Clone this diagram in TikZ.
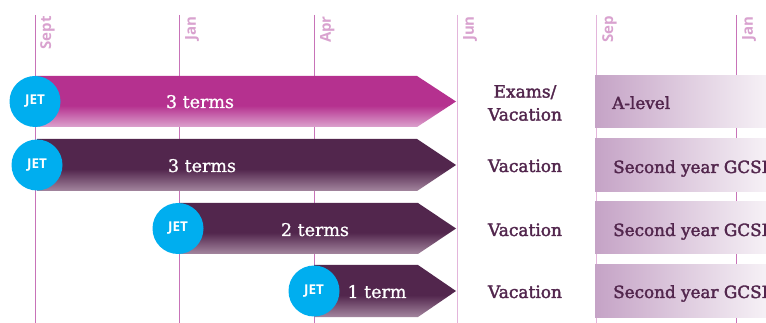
\documentclass[tikz,border=0pt]{standalone}
\usepackage{fontspec}
\setmainfont{DejaVu Serif}
\newfontfamily\slabfont{DejaVu Serif}[FakeBold=2]
\newfontfamily\termfont{DejaVu Serif}[FakeBold=1]
\newfontfamily\monthfont{Open Sans}
\newfontfamily\jetfont{Open Sans}
\definecolor{magentadk}{HTML}{B5318F}
\definecolor{magentalt}{HTML}{DCA3CE}
\definecolor{plumdk}{HTML}{52264D}
\definecolor{plumlt}{HTML}{A4869F}
\definecolor{jetblue}{HTML}{00AEEF}
\definecolor{linepink}{HTML}{C873B8}
\definecolor{linepale}{HTML}{E3B5DB}
\definecolor{monthtext}{HTML}{D9A2CF}
\definecolor{boxleft}{HTML}{C5A3C6}
\definecolor{boxright}{HTML}{F6F1F6}
\pgfdeclareverticalshading{magentafade}{100bp}{color(0bp)=(magentalt); color(25bp)=(magentalt); color(46bp)=(magentadk); color(100bp)=(magentadk)}
\pgfdeclareverticalshading{plumfade}{100bp}{color(0bp)=(plumlt); color(25bp)=(plumlt); color(46bp)=(plumdk); color(100bp)=(plumdk)}
\begin{document}
\begin{tikzpicture}[x=1pt, y=-1pt,
  gridline/.style={draw=linepink, line width=0.9pt},
  paleline/.style={draw=linepale, line width=0.9pt},
  month/.style={rotate=90, inner sep=0pt, anchor=north east, text=monthtext, font=\monthfont\bfseries\fontsize{15}{15}\selectfont},
  jet/.style={circle, fill=jetblue, minimum size=51pt, inner sep=0pt, text=white, font=\jetfont\bfseries\fontsize{13.5}{13.5}\selectfont},
  termtext/.style={anchor=base, inner sep=0pt, text=white, font=\termfont\fontsize{17.5}{17.5}\selectfont},
  vactext/.style={inner sep=0pt, align=center, text=plumdk, font=\slabfont\fontsize{17}{23}\selectfont},
  boxtext/.style={anchor=base west, inner sep=0pt, text=plumdk, font=\slabfont\fontsize{16.8}{16.8}\selectfont}]
\clip (0,0) rectangle (766,323);
\fill[white] (0,0) rectangle (766,323);
% month lines
\draw[gridline] (35,15) -- (35,323);
\draw[gridline] (179,15) -- (179,323);
\draw[gridline] (314,15) -- (314,323);
\draw[paleline] (457,15) -- (457,323);
\draw[paleline] (596,15) -- (596,323);
\draw[gridline] (736,15) -- (736,323);
\node[month] (m-sept) at (40,16) {Sept};
\node[month] (m-jan) at (185,16) {Jan};
\node[month] (m-apr) at (320,16) {Apr};
\node[month] (m-jun) at (463,16) {Jun};
\node[month] (m-sep) at (602,16) {Sep};
\node[month] (m-jan2) at (742,16) {Jan};
% term bars
\shade[shading=magentafade] (35,76) -- (417,76) -- (456,101.5) -- (417,127) -- (35,127) -- cycle;
\shade[shading=plumfade] (37,139) -- (417,139) -- (456,165) -- (417,191) -- (37,191) -- cycle;
\shade[shading=plumfade] (179,203) -- (418,203) -- (456,228.5) -- (418,254) -- (179,254) -- cycle;
\shade[shading=plumfade] (314,265) -- (418,265) -- (456,291) -- (418,317) -- (314,317) -- cycle;
\node[jet] (jet-a) at (35,101.5) {JET};
\node[jet] (jet-b) at (37,165) {JET};
\node[jet] (jet-c) at (178,228.5) {JET};
\node[jet] (jet-d) at (314,291) {JET};
\node[termtext] (terms-a) at (200,108) {3 terms};
\node[termtext] (terms-b) at (202,172) {3 terms};
\node[termtext] (terms-c) at (315,236) {2 terms};
\node[termtext] (terms-d) at (377,298) {1 term};
% vacation
\node[vactext] (vac-a) at (525,103) {Exams/\\Vacation};
\node[vactext, anchor=base] (vac-b) at (525,172) {Vacation};
\node[vactext, anchor=base] (vac-c) at (525,236) {Vacation};
\node[vactext, anchor=base] (vac-d) at (525,298) {Vacation};
% next year
\shade[left color=boxleft, right color=boxright] (595,76) rectangle (767,128);
\shade[left color=boxleft, right color=boxright] (595,139) rectangle (767,192);
\shade[left color=boxleft, right color=boxright] (595,202) rectangle (767,254);
\shade[left color=boxleft, right color=boxright] (595,265) rectangle (767,317);
\node[boxtext] (next-a) at (612,109) {A-level};
\node[boxtext] (next-b) at (613,173) {Second year GCSE};
\node[boxtext] (next-c) at (613,236) {Second year GCSE};
\node[boxtext] (next-d) at (613,298) {Second year GCSE};
\end{tikzpicture}
\end{document}
